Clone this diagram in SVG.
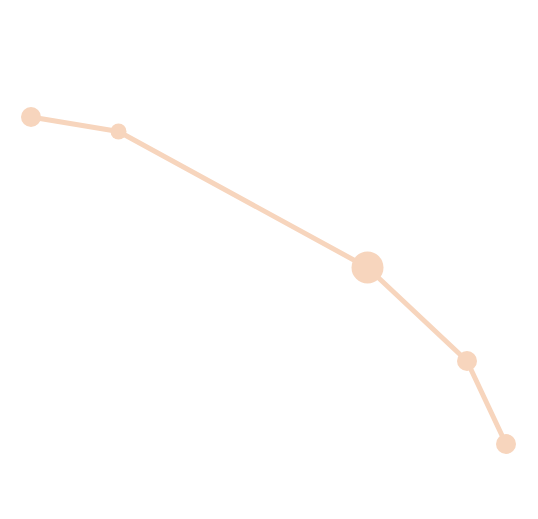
<svg xmlns="http://www.w3.org/2000/svg" width="538" height="519" viewBox="0 0 538 519">
<style>
.edge{stroke:#f7d5bd;stroke-width:5;fill:none;stroke-linecap:round}
.node{fill:#f7d5bd}
</style>
<rect width="538" height="519" fill="#ffffff"/>
<g id="connectors">
<line class="edge" x1="31" y1="117" x2="118.5" y2="131.5"/>
<line class="edge" x1="118.5" y1="131.5" x2="367.5" y2="267.5"/>
<line class="edge" x1="367.5" y1="267.5" x2="467" y2="361"/>
<line class="edge" x1="467" y1="361" x2="506" y2="444"/>
</g>
<g id="n1"><circle class="node" cx="31" cy="117" r="10"/></g>
<g id="n2"><circle class="node" cx="118.5" cy="131.5" r="8"/></g>
<g id="n3"><circle class="node" cx="367.5" cy="267.5" r="16"/></g>
<g id="n4"><circle class="node" cx="467" cy="361" r="10"/></g>
<g id="n5"><circle class="node" cx="506" cy="444" r="10"/></g>
</svg>
